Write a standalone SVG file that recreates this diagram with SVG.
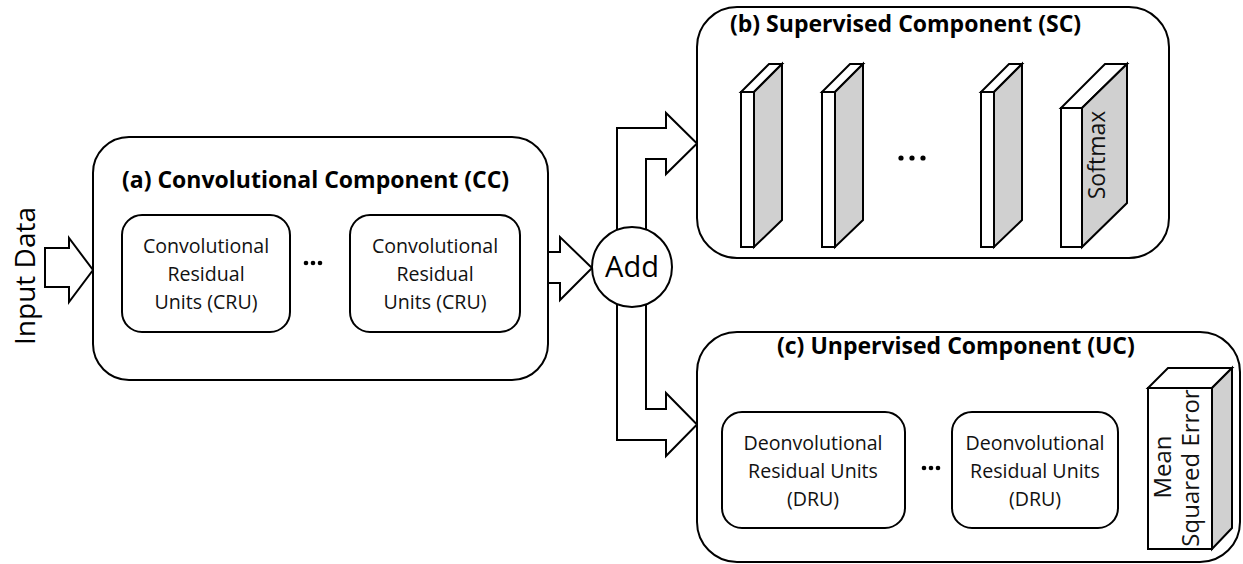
<svg xmlns="http://www.w3.org/2000/svg" width="1243" height="564" viewBox="0 0 1243 564">
  <defs>
    <style>
      .box { fill: #ffffff; stroke: #000000; stroke-width: 2; }
      .arrow { fill: #ffffff; stroke: #000000; stroke-width: 2; stroke-linejoin: miter; }
      .face { fill: #ffffff; stroke: #000000; stroke-width: 2; stroke-linejoin: miter; }
      .side { fill: #d0d0d0; stroke: #000000; stroke-width: 2; stroke-linejoin: miter; }
      .title { font-family: "Open Sans", "Noto Sans", sans-serif; font-weight: bold; font-size: 23px; fill: #000000; }
      .label { font-family: "Open Sans", "Noto Sans", sans-serif; font-size: 19.6px; fill: #111111; text-anchor: middle; }
      .big { font-family: "Open Sans", "Noto Sans", sans-serif; font-size: 28px; fill: #000000; text-anchor: middle; }
      .dot { fill: #000000; }
    </style>
  </defs>

  <rect width="1243" height="564" fill="#ffffff"/>

  <!-- input label -->
  <g id="input-data">
    <text class="big" transform="translate(35,276) rotate(-90)">Input Data</text>
  </g>

  <!-- block arrows -->
  <g id="connectors">
    <polygon class="arrow" points="45,248 69,248 69,238 93,270 69,302 69,287 45,287"/>
    <polygon class="arrow" points="548,252 560,252 560,237 592,268 560,300 560,283 548,283"/>
    <path class="arrow" d="M617,232 L617,128 L666,128 L666,113 L697,143.5 L666,174 L666,159 L646,159 L646,232"/>
    <path class="arrow" d="M646,303 L646,409 L666,409 L666,393 L697,424.5 L666,456 L666,440 L617,440 L617,303"/>
  </g>

  <!-- (a) convolutional component -->
  <g id="cc">
    <rect class="box" x="93" y="137" width="455" height="243" rx="36" ry="36"/>
    <text class="title" x="122" y="188">(a) Convolutional Component (CC)</text>
    <g id="cru-1">
      <rect class="box" x="122" y="215" width="168" height="117" rx="20" ry="20"/>
      <text class="label" x="206" y="253">Convolutional</text>
      <text class="label" x="206" y="281">Residual</text>
      <text class="label" x="206" y="309">Units (CRU)</text>
    </g>
    <g id="cru-dots">
      <circle class="dot" cx="306" cy="263" r="2.3"/>
      <circle class="dot" cx="313" cy="263" r="2.3"/>
      <circle class="dot" cx="320" cy="263" r="2.3"/>
    </g>
    <g id="cru-n">
      <rect class="box" x="350" y="215" width="170" height="117" rx="20" ry="20"/>
      <text class="label" x="435" y="253">Convolutional</text>
      <text class="label" x="435" y="281">Residual</text>
      <text class="label" x="435" y="309">Units (CRU)</text>
    </g>
  </g>

  <!-- merge node -->
  <g id="add">
    <circle class="box" cx="632" cy="267" r="40"/>
    <text class="big" style="font-size:29px" x="632" y="277">Add</text>
  </g>

  <!-- (b) supervised component -->
  <g id="sc">
    <rect class="box" x="697" y="7" width="472" height="251" rx="40" ry="40"/>
    <text class="title" x="730" y="32">(b) Supervised Component (SC)</text>
    <g id="layer-1">
      <polygon class="face" points="741,92 754,92 782,64 769,64"/>
      <polygon class="side" points="754,92 782,64 782,220 754,247"/>
      <rect class="face" x="741" y="92" width="13" height="155"/>
    </g>
    <g id="layer-2">
      <polygon class="face" points="822,92 835,92 863,64 850,64"/>
      <polygon class="side" points="835,92 863,64 863,220 835,247"/>
      <rect class="face" x="822" y="92" width="13" height="155"/>
    </g>
    <g id="layer-dots">
      <circle class="dot" cx="901" cy="158" r="2.6"/>
      <circle class="dot" cx="912" cy="158" r="2.6"/>
      <circle class="dot" cx="923" cy="158" r="2.6"/>
    </g>
    <g id="layer-n">
      <polygon class="face" points="981,92 994,92 1022,64 1009,64"/>
      <polygon class="side" points="994,92 1022,64 1022,220 994,247"/>
      <rect class="face" x="981" y="92" width="13" height="155"/>
    </g>
    <g id="softmax">
      <polygon class="face" points="1061,108 1082,108 1127,64 1105,64"/>
      <polygon class="side" points="1082,108 1127,64 1127,203 1082,247"/>
      <rect class="face" x="1061" y="108" width="21" height="139"/>
      <text class="label" style="font-size:23px" transform="translate(1105,155) rotate(-90)">Softmax</text>
    </g>
  </g>

  <!-- (c) unsupervised component -->
  <g id="uc">
    <rect class="box" x="697" y="332" width="543" height="230" rx="40" ry="40"/>
    <text class="title" x="777" y="354">(c) Unpervised Component (UC)</text>
    <g id="dru-1">
      <rect class="box" x="722" y="412" width="183" height="116" rx="20" ry="20"/>
      <text class="label" x="813" y="450">Deonvolutional</text>
      <text class="label" x="813" y="478">Residual Units</text>
      <text class="label" x="813" y="506">(DRU)</text>
    </g>
    <g id="dru-dots">
      <circle class="dot" cx="924" cy="468" r="2.3"/>
      <circle class="dot" cx="931" cy="468" r="2.3"/>
      <circle class="dot" cx="938" cy="468" r="2.3"/>
    </g>
    <g id="dru-n">
      <rect class="box" x="952" y="412" width="166" height="116" rx="20" ry="20"/>
      <text class="label" x="1035" y="450">Deonvolutional</text>
      <text class="label" x="1035" y="478">Residual Units</text>
      <text class="label" x="1035" y="506">(DRU)</text>
    </g>
    <g id="mse">
      <polygon class="face" points="1148,388 1212,388 1232,368 1168,368"/>
      <polygon class="side" points="1212,388 1232,368 1232,528 1212,549"/>
      <rect class="face" x="1148" y="388" width="64" height="161"/>
      <text class="label" style="font-size:24px" transform="translate(1171,467) rotate(-90)">Mean</text>
      <text class="label" style="font-size:24px" transform="translate(1199,468) rotate(-90)">Squared Error</text>
    </g>
  </g>
</svg>
